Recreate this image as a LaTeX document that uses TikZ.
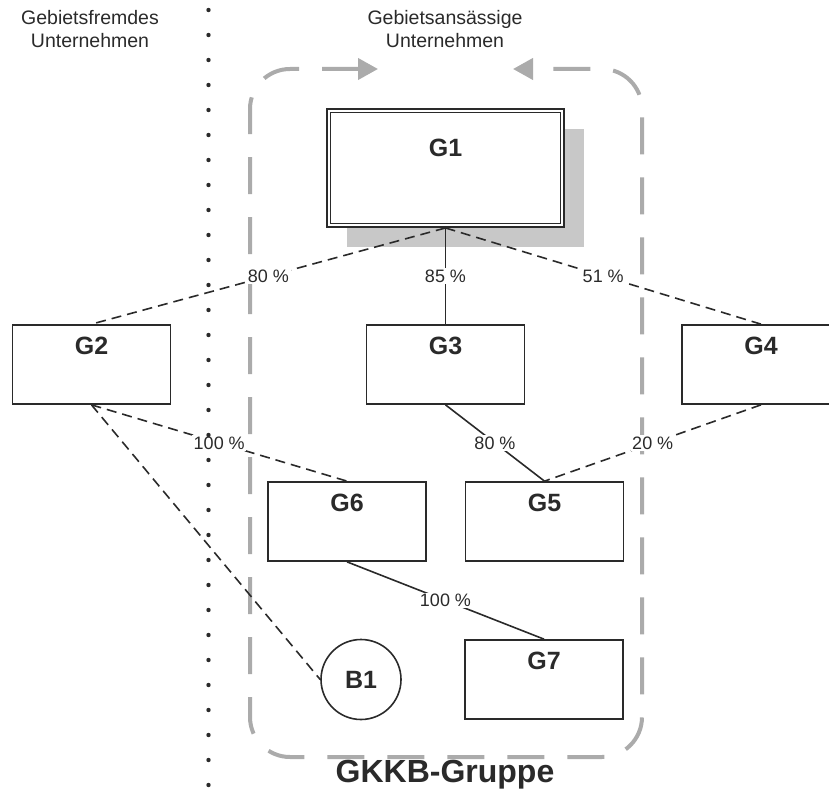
\documentclass[tikz,border=0pt]{standalone}
\usepackage{fontspec}
\setmainfont{Liberation Sans}
\usetikzlibrary{arrows.meta,shadows}
\definecolor{ink}{HTML}{2A2A2A}
\definecolor{framegray}{HTML}{ABABAB}
\definecolor{shadegray}{HTML}{C8C8C8}
\begin{document}
\begin{tikzpicture}[x=1pt,y=-1pt,
  company/.style={draw=ink, line width=1.7pt, minimum width=158pt, minimum height=79pt, inner sep=0pt},
  parent/.style={draw=ink, line width=1.9pt, minimum width=237pt, minimum height=118pt, inner sep=0pt,
    fill=white, drop shadow={shadow xshift=20pt, shadow yshift=-20pt, fill=shadegray, opacity=1}},
  tag/.style={font=\fontsize{25}{28}\selectfont\bfseries, text=ink, inner sep=0pt},
  share/.style={font=\fontsize{18}{21}\selectfont, text=ink, fill=white, inner sep=1.5pt},
  heading/.style={font=\fontsize{19.5}{23}\selectfont, text=ink, align=center},
  solidlink/.style={draw=ink, line width=1.6pt},
  dashlink/.style={draw=ink, line width=1.6pt, dash pattern=on 10pt off 6pt},
  groupframe/.style={draw=framegray, line width=4pt, rounded corners=40pt,
    dash pattern=on 37pt off 23pt,
    {Triangle[length=20pt,width=21pt]}-{Triangle[length=20pt,width=21pt]}},
]
\useasboundingbox (0,0) rectangle (829,791);

% column headings
\node[heading] (foreign) at (90,29.5) {Gebietsfremdes\\Unternehmen};
\node[heading] (resident) at (445,29.5) {Gebietsansässige\\Unternehmen};

% dashed frame of the group with the two arrows on top
\coordinate (arrL) at (378,69);
\coordinate (arrR) at (513,69);
\draw[groupframe] (arrL) -- (250,69) -- (250,757) -- (642,757) -- (642,69) -- (arrR);
\node[font=\fontsize{32}{36}\selectfont\bfseries, text=ink] (group) at (445,775) {GKKB-Gruppe};

% parent company with shadow and double border
\node[parent] (G1) at (445.5,168) {};
\draw[ink, line width=1.3pt] ([shift={(4.5pt,-4.5pt)}]G1.north west) rectangle ([shift={(-4.5pt,4.5pt)}]G1.south east);
\node[tag] at ([yshift=-40pt]G1.north) {G1};

% subsidiaries
\node[company] (G2) at (91.5,364.5) {};
\node[company] (G3) at (445.5,364.5) {};
\node[company] (G4) at (761,364.5) {};
\node[company] (G6) at (347,521.5) {};
\node[company] (G5) at (544.5,521.5) {};
\node[company] (G7) at (544,679.5) {};
\node[circle, draw=ink, line width=1.6pt, minimum size=80pt, inner sep=0pt] (B1) at (361,679.5) {};

\foreach \n in {G2,G3,G4,G5,G6,G7}
  \node[tag] at ([yshift=-21.5pt]\n.north) {\n};
\node[tag] at (B1) {B1};

% shareholdings
\draw[dashlink] (G1.south) -- (G2.north) node[share, midway] {80 \%};
\draw[solidlink] (G1.south) -- (G3.north) node[share, midway] {85 \%};
\draw[dashlink] (G1.south) -- (G4.north) node[share, midway] {51 \%};
\draw[dashlink] (G2.south) -- (G6.north) node[share, midway] {100 \%};
\draw[solidlink] (G3.south) -- (G5.north) node[share, midway] {80 \%};
\draw[dashlink] (G4.south) -- (G5.north) node[share, midway] {20 \%};
\draw[solidlink] (G6.south) -- (G7.north) node[share, midway] {100 \%};
\draw[dashlink] (G2.south) -- (B1.west);

% border between foreign and resident companies
\foreach \k in {0,...,31}
  \fill[ink] (208.5,10+25*\k) circle (2.2pt);
\end{tikzpicture}
\end{document}
